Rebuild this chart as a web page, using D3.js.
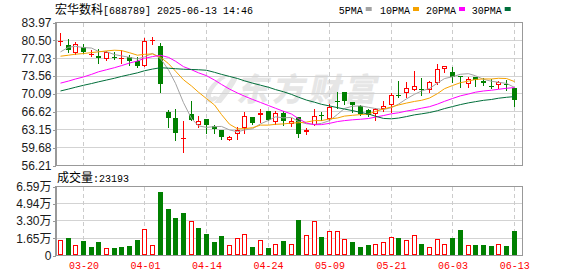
<!DOCTYPE html>
<html><head><meta charset="utf-8">
<script src="https://cdn.jsdelivr.net/npm/d3@7"></script>
<style>
html,body{margin:0;padding:0;background:#fff;}
svg{display:block;}
</style></head><body>
<svg id="c" width="578" height="276"></svg>
<script>
// ---------- data ----------
const stockName = "宏华数科";
const stockInfo = "[688789] 2025-06-13 14:46";
const dates = ["03-17","03-18","03-19","03-20","03-21","03-24","03-25","03-26","03-27","03-28",
  "03-31","04-01","04-02","04-03","04-07","04-08","04-09","04-10","04-11","04-14",
  "04-15","04-16","04-17","04-18","04-21","04-22","04-23","04-24","04-25","04-28",
  "04-29","04-30","05-06","05-07","05-08","05-09","05-12","05-13","05-14","05-15",
  "05-16","05-19","05-20","05-21","05-22","05-23","05-26","05-27","05-28","05-29",
  "05-30","06-03","06-04","06-05","06-06","06-09","06-10","06-11","06-12","06-13"];
const open = [80.20,79.67,78.14,79.23,77.75,77.50,76.85,77.30,76.80,77.30,
  76.47,75.57,80.38,79.42,66.60,65.44,61.40,66.21,64.03,65.25,
  63.84,63.14,61.20,62.37,63.52,65.64,66.02,66.85,64.74,66.47,
  64.35,65.70,62.75,64.16,65.95,65.31,68.71,70.57,68.58,67.69,
  67.05,66.21,67.18,68.01,69.80,70.25,70.89,71.08,70.77,72.17,
  74.87,74.42,73.65,72.11,73.46,72.62,71.66,71.85,71.98,71.21];
const high = [81.98,80.70,80.19,79.87,78.59,78.78,78.39,78.27,78.59,77.75,
  77.30,81.02,81.15,80.06,67.05,67.24,64.80,68.65,65.89,65.25,
  64.16,63.14,61.85,63.78,66.60,65.70,67.18,66.85,66.85,66.85,
  65.38,65.70,63.52,67.24,66.60,68.14,70.44,70.57,68.58,68.01,
  67.18,67.37,68.78,70.32,72.62,72.37,74.55,73.26,72.62,75.83,
  75.57,75.31,73.65,73.46,73.46,73.14,73.01,72.62,72.81,71.21];
const low = [79.55,78.27,77.94,78.14,77.50,76.02,76.73,76.98,76.02,75.70,
  75.38,75.57,79.87,70.44,63.65,61.08,58.84,65.12,63.65,62.56,
  62.56,61.41,61.08,61.41,62.56,64.30,64.68,65.12,64.35,64.16,
  63.84,61.79,62.24,64.03,64.99,65.12,67.37,68.20,66.60,66.08,
  65.76,64.99,66.85,66.60,69.42,69.42,70.77,69.93,70.57,71.98,
  74.42,72.50,71.40,71.53,71.72,71.85,71.21,71.21,70.89,67.69];
const close = [80.40,78.58,79.87,78.27,77.94,77.11,78.27,77.15,77.00,76.47,
  75.57,80.32,80.51,71.98,65.44,62.56,61.50,65.12,64.87,64.03,
  63.27,61.70,61.75,63.01,65.83,64.42,66.47,65.12,66.47,64.80,
  64.90,62.37,63.01,65.90,65.80,67.50,68.46,68.78,68.01,66.21,
  66.08,67.24,67.82,69.87,69.61,71.21,71.66,70.96,72.37,74.87,
  75.57,73.45,73.35,72.94,72.82,72.17,71.53,72.37,71.85,68.97];
// volume in 万 (10k shares)
const volume = [1.52,1.65,0.97,1.36,0.78,1.26,0.74,0.68,0.78,0.87,
  1.45,2.49,0.97,6.10,4.46,3.59,4.07,3.26,2.62,2.04,
  1.26,1.84,1.03,1.71,2.10,0.78,1.52,0.68,1.13,1.36,
  1.08,3.38,1.99,3.25,1.74,2.38,2.38,1.61,1.25,0.77,
  0.96,1.13,1.32,1.80,1.64,1.51,1.99,1.13,0.84,1.61,
  1.13,1.66,2.41,1.05,0.96,1.05,0.87,1.14,0.87,2.3193];
// 1 = rising day (red hollow), 0 = falling day (green)
const volumeUp = [1,0,1,0,0,0,1,0,0,0,
  0,1,1,0,0,0,0,1,0,0,
  0,0,1,1,1,0,1,0,1,0,
  1,0,1,1,0,1,1,1,0,0,
  0,1,1,1,0,1,1,0,1,1,
  1,0,0,1,0,0,0,1,0,0];
// moving-average values before a full window is available
const ma5Head = [78.27,79.16,79.35,79.10];
const ma10Head = [77.43,77.62,77.82,77.94,78.14,78.27,78.46,78.59,78.52];
const ma20Head = [72.20,72.60,73.00,73.40,73.90,74.40,74.80,75.20,75.60,76.10,
  76.50,77.00,77.35,77.60,77.20,76.45,75.40,74.80,74.20];
const ma30Head = [70.68,71.05,71.40,71.78,72.12,72.45,72.80,73.15,73.50,73.85,
  74.20,74.60,74.93,75.19,75.10,75.00,74.90,74.85,74.80,74.70,
  74.30,73.90,73.50,73.10,72.65,72.20,71.80,71.40,70.95];
const priceTicks = [56.21,59.68,63.15,66.62,70.09,73.56,77.03,80.50,83.97];
const volumeTicks = [0,1.65,3.30,4.94,6.59];
const xTickLabels = ["03-20","04-01","04-14","04-24","05-09","05-21","06-03","06-13"];
const maNames = ["5PMA","10PMA","20PMA","30PMA"];
const maColors = ["#a3a3a3","#f5a200","#ff00ff","#006e3a"];

// ---------- layout ----------
const svg = d3.select("#c");
const L = 55.5, R = 522.5, T = 22.5, B = 165.5, VT = 186.5, VB = 255.5;
const UP = "#ff0000", DOWN = "#008000";
const monoFont = "'Liberation Mono', monospace";
const sansFont = "'Liberation Sans', Arial, 'Noto Sans CJK SC', sans-serif";
const cjkFont = "'Noto Sans CJK SC', sans-serif";

const x = d3.scaleBand().domain(d3.range(dates.length)).range([56.5, 518])
  .paddingInner(0.35).paddingOuter(0.175);
const cx = i => Math.floor(x(i) + x.bandwidth() / 2) + 0.5;
const y = d3.scaleLinear().domain([priceTicks[0], priceTicks[priceTicks.length - 1]]).range([B, T]);
const yv = d3.scaleLinear().domain([0, volumeTicks[volumeTicks.length - 1]]).range([VB, VT]);
const crisp = v => Math.floor(v) + 0.5;
const tickIdx = xTickLabels.map(d => dates.indexOf(d));

// ---------- watermark ----------
const wm = svg.append("g").attr("fill", "#e6e6e6");
wm.append("path")
  .attr("d", "M222,76 C212,82 204,92 206,100 C208,104 214,103 219,97 L214,96 C211,99 210,96 212,92 C215,86 220,81 226,78 Z M232,77 C226,86 220,96 214,103 L221,103 C228,95 234,86 238,78 Z")
  .attr("fill", "#e6e6e6");
wm.append("text")
  .attr("transform", "translate(236,101) skewX(-12)")
  .attr("font-family", cjkFont).attr("font-weight", 900)
  .attr("font-size", 32).attr("letter-spacing", 4)
  .text("东方财富");

// ---------- grids ----------
const grid = svg.append("g").attr("shape-rendering", "crispEdges");
priceTicks.slice(1, -1).forEach(v => {
  grid.append("line").attr("x1", L).attr("x2", R).attr("y1", crisp(y(v))).attr("y2", crisp(y(v)))
    .attr("stroke", "#d3d3d3");
});
volumeTicks.slice(1, -1).forEach(v => {
  grid.append("line").attr("x1", L).attr("x2", R).attr("y1", crisp(yv(v))).attr("y2", crisp(yv(v)))
    .attr("stroke", "#d3d3d3");
});
tickIdx.forEach(i => {
  [[T, B], [VT, VB]].forEach(([a, b]) => {
    grid.append("line").attr("x1", cx(i)).attr("x2", cx(i)).attr("y1", a).attr("y2", b)
      .attr("stroke", "#cccccc").attr("stroke-dasharray", "4,3");
  });
});

// ---------- frames ----------
[[T, B], [VT, VB]].forEach(([a, b]) => {
  svg.append("rect").attr("x", L).attr("y", a).attr("width", R - L).attr("height", b - a)
    .attr("fill", "none").attr("stroke", "#999").attr("shape-rendering", "crispEdges");
});

// ---------- axes ----------
const yAxis = svg.append("g").attr("transform", `translate(${L},0)`)
  .call(d3.axisLeft(y).tickValues(priceTicks).tickFormat(d3.format(".2f")).tickSize(3).tickSizeOuter(0).tickPadding(1));
const vAxis = svg.append("g").attr("transform", `translate(${L},0)`)
  .call(d3.axisLeft(yv).tickValues(volumeTicks).tickFormat(d => d === 0 ? "0" : d3.format(".2f")(d) + "万")
    .tickSize(3).tickSizeOuter(0).tickPadding(1));
[yAxis, vAxis].forEach(g => {
  g.select(".domain").attr("stroke", "#999").attr("shape-rendering", "crispEdges");
  g.selectAll(".tick line").attr("stroke", "#999").attr("shape-rendering", "crispEdges");
  g.selectAll(".tick text").attr("font-family", sansFont).attr("font-size", 12).attr("fill", "#1a1a1a");
});
const xAxis = svg.append("g").attr("transform", `translate(0,${VB})`)
  .call(d3.axisBottom(x).tickValues(tickIdx).tickFormat(i => dates[i]).tickSize(0).tickPadding(6));
xAxis.select(".domain").remove();
xAxis.selectAll(".tick text").attr("font-family", monoFont).attr("font-size", 11)
  .attr("fill", UP).attr("textLength", 30).attr("lengthAdjust", "spacingAndGlyphs")
  .attr("x", 0.5);

// ---------- candles ----------
const candles = svg.append("g").attr("shape-rendering", "crispEdges");
dates.forEach((d, i) => {
  const isUp = close[i] >= open[i];
  const col = isUp ? UP : DOWN;
  const c = cx(i);
  candles.append("line").attr("x1", c).attr("x2", c)
    .attr("y1", Math.round(y(high[i]))).attr("y2", Math.round(y(low[i])) + 1).attr("stroke", col);
  const top = Math.round(y(Math.max(open[i], close[i])));
  const bot = Math.round(y(Math.min(open[i], close[i])));
  if (bot - top < 2) {
    candles.append("rect").attr("x", c - 2.5).attr("y", top).attr("width", 5).attr("height", Math.max(1, bot - top))
      .attr("fill", col);
  } else if (isUp) {
    candles.append("rect").attr("x", c - 2).attr("y", top + 0.5).attr("width", 4).attr("height", bot - top - 1)
      .attr("fill", "#fff").attr("stroke", col);
  } else {
    candles.append("rect").attr("x", c - 2.5).attr("y", top).attr("width", 5).attr("height", bot - top)
      .attr("fill", col);
  }
});

// ---------- moving averages ----------
const movingAvg = (period, head) => close.map((v, i) =>
  i < period - 1 ? head[i] : d3.mean(close.slice(i - period + 1, i + 1)));
const maSeries = [movingAvg(5, ma5Head), movingAvg(10, ma10Head), movingAvg(20, ma20Head), movingAvg(30, ma30Head)];
const line = d3.line().x((d, i) => cx(i)).y(d => y(d));
svg.append("clipPath").attr("id", "plot").append("rect")
  .attr("x", L).attr("y", T).attr("width", R - L).attr("height", B - T);
const maG = svg.append("g").attr("clip-path", "url(#plot)");
maSeries.forEach((s, k) => {
  maG.append("path").attr("d", line(s)).attr("fill", "none")
    .attr("stroke", maColors[k]).attr("stroke-width", 1);
});

// ---------- volume ----------
const vol = svg.append("g").attr("shape-rendering", "crispEdges");
volume.forEach((v, i) => {
  const c = cx(i);
  const top = Math.round(yv(v));
  if (volumeUp[i]) {
    vol.append("rect").attr("x", c - 2).attr("y", top + 0.5).attr("width", 4).attr("height", VB - 1 - (top + 0.5))
      .attr("fill", "#fff").attr("stroke", UP);
  } else {
    vol.append("rect").attr("x", c - 2.5).attr("y", top).attr("width", 5).attr("height", VB - 0.5 - top)
      .attr("fill", DOWN);
  }
});

// ---------- header / labels ----------
svg.append("text").attr("x", 55).attr("y", 14).attr("font-family", cjkFont).attr("font-size", 12)
  .attr("fill", "#000").text(stockName);
svg.append("text").attr("x", 103).attr("y", 13.5).attr("font-family", monoFont).attr("font-size", 11.5)
  .attr("fill", "#000").attr("textLength", stockInfo.length * 6).attr("lengthAdjust", "spacingAndGlyphs")
  .text(stockInfo);

const legendX = [338.7, 380, 426, 471.7];
maNames.forEach((nm, k) => {
  svg.append("text").attr("x", legendX[k]).attr("y", 13.5).attr("font-family", monoFont).attr("font-size", 11.5)
    .attr("fill", "#000").attr("textLength", nm.length * 6).attr("lengthAdjust", "spacingAndGlyphs").text(nm);
  svg.append("rect").attr("x", legendX[k] + nm.length * 6 + 3).attr("y", 7).attr("width", 6).attr("height", 4)
    .attr("fill", maColors[k]);
});

svg.append("text").attr("x", 57).attr("y", 182).attr("font-family", cjkFont).attr("font-size", 12)
  .attr("fill", "#000").text("成交量");
const lastVol = ":" + Math.round(volume[volume.length - 1] * 10000);
svg.append("text").attr("x", 93).attr("y", 181.5).attr("font-family", monoFont).attr("font-size", 11.5)
  .attr("fill", "#000").attr("textLength", lastVol.length * 6).attr("lengthAdjust", "spacingAndGlyphs")
  .text(lastVol);
</script>
</body></html>
